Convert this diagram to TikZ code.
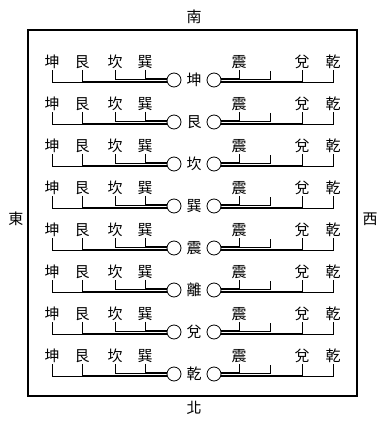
\documentclass[tikz,border=0pt]{standalone}
\usepackage{fontspec}
\newfontfamily\cjk{Noto Sans CJK TC}
\usetikzlibrary{positioning}

\begin{document}
\begin{tikzpicture}[
    x=1pt, y=-1pt,
    gua/.style={font=\cjk\fontsize{15}{15}\selectfont, inner sep=1pt},
    hub/.style={circle, draw, line width=0.8pt, minimum size=14pt, inner sep=0pt},
    wire/.style={line width=0.8pt},
    frame/.style={line width=1.5pt}
]
\useasboundingbox (0,0) rectangle (383,422);

% Frame and the four directions
\draw [frame] (28,30) rectangle (357,396);
\node [gua] (nan) at (194,17) {南};
\node [gua] (bei) at (194,408) {北};
\node [gua] (dong) at (16,219) {東};
\node [gua] (xi) at (370,219) {西};

% Eight rows, one for each centre trigram
\foreach \c [count=\r from 0] in {坤,艮,坎,巽,震,離,兌,乾}{
  \begin{scope}[shift={(0,42*\r)}]
    \node [gua] (kun\r) at (52,62) {坤};
    \node [gua] (gen\r) at (82,62) {艮};
    \node [gua] (kan\r) at (115,62) {坎};
    \node [gua] (xun\r) at (145,62) {巽};
    \node [gua] (zhen\r) at (239,62) {震};
    \coordinate (li\r) at (270,71);
    \node [gua] (dui\r) at (302,62) {兌};
    \node [gua] (qian\r) at (333,62) {乾};
    \node [hub] (lhub\r) at (174,80) {};
    \node [gua] (mid\r) at (194,80) {\c};
    \node [hub] (rhub\r) at (214,80) {};
  \end{scope}
  % left bracket
  \draw [wire] (kun\r.south) |- (lhub\r.200);
  \draw [wire] (gen\r.south) |- (lhub\r.190);
  \draw [wire] (kan\r.south) |- (lhub\r.173);
  \draw [wire] (xun\r.south) |- (lhub\r.165);
  % right bracket
  \draw [wire] (zhen\r.south) |- (rhub\r.15);
  \draw [wire] (li\r) |- (rhub\r.3);
  \draw [wire] (dui\r.south) |- (rhub\r.-10);
  \draw [wire] (qian\r.south) |- (rhub\r.-22);
}

\end{tikzpicture}
\end{document}
